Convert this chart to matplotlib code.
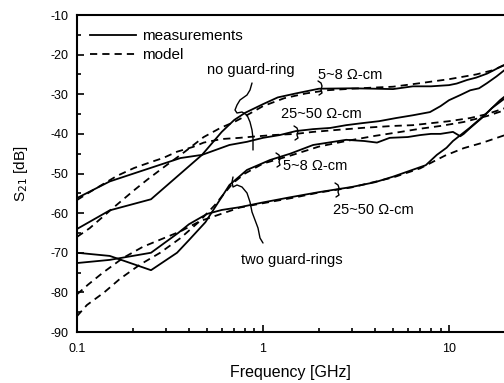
import numpy as np
import matplotlib
matplotlib.use("Agg")
import matplotlib.pyplot as plt
from matplotlib.ticker import MultipleLocator, LogLocator, FixedLocator, FixedFormatter, NullFormatter
from matplotlib.lines import Line2D

plt.rcParams['font.family'] = ['Liberation Sans', 'DejaVu Sans']
plt.rcParams['axes.unicode_minus'] = False

# ---------------- data ----------------
# measurements
f_s1 = [0.1, 0.15, 0.25, 0.47, 0.6, 0.7, 0.8, 1.0, 1.2, 1.5, 2.0, 3.0, 4.0, 5.0,
        6.4, 8.0, 10.0, 11.0, 12.5, 14.0, 16.0, 17.3, 19.0, 20.0]
s1 = [-64.0, -59.3, -56.5, -45.3, -39.5, -36.5, -34.7, -32.5, -30.8, -29.8, -28.6,
      -28.5, -28.6, -28.7, -28.0, -28.0, -27.7, -27.3, -26.4, -25.8, -24.8, -24.0, -23.0, -22.5]

f_s2 = [0.1, 0.15, 0.36, 0.47, 0.66, 0.82, 1.0, 1.23, 1.5, 1.86, 2.3, 2.8, 3.4, 4.2,
        5.2, 6.4, 7.9, 9.0, 10.0, 11.5, 13.0, 14.5, 16.0, 18.0, 20.0]
s2 = [-56.2, -52.0, -46.1, -45.3, -42.8, -42.0, -41.0, -40.3, -39.3, -38.8, -38.5,
      -37.8, -37.3, -36.8, -36.0, -35.3, -34.5, -33.0, -31.5, -30.2, -29.0, -28.5,
      -27.2, -25.5, -23.8]

f_s3 = [0.1, 0.15, 0.25, 0.345, 0.4, 0.49, 0.66, 0.82, 1.09, 1.4, 1.86, 2.8, 3.5,
        4.1, 4.8, 6.0, 7.0, 8.0, 9.0, 10.5, 11.5, 12.0, 13.0, 15.0, 17.0, 20.0]
s3 = [-70.0, -70.8, -74.4, -70.0, -66.8, -62.3, -52.9, -49.1, -46.6, -45.0, -42.8,
      -41.5, -41.8, -42.2, -41.0, -40.8, -40.3, -40.0, -40.0, -39.5, -40.6, -40.0,
      -38.5, -36.0, -33.5, -31.0]

f_s4 = [0.1, 0.15, 0.25, 0.35, 0.4, 0.5, 0.6, 0.75, 1.0, 1.4, 2.0, 3.0, 4.0, 5.0,
        6.0, 7.5, 8.6, 9.7, 10.5, 12.9, 16.0, 18.8, 20.0]
s4 = [-72.6, -71.8, -70.0, -65.0, -62.8, -60.2, -59.2, -58.5, -57.3, -56.0, -54.7,
      -53.4, -52.2, -50.8, -49.5, -47.9, -45.3, -43.5, -41.8, -38.5, -34.7, -31.5, -30.5]

# models
f_m1 = [0.1, 0.117, 0.158, 0.203, 0.238, 0.293, 0.38, 0.48, 0.59, 0.70, 0.79, 1.0,
        1.3, 1.7, 2.2, 3.0, 4.0, 5.0, 7.0, 10.0, 14.0, 17.0, 20.0]
m1 = [-66.0, -63.8, -58.5, -54.2, -51.6, -48.4, -44.5, -40.8, -38.5, -37.0, -35.7,
      -33.0, -31.0, -29.8, -29.0, -28.6, -28.3, -28.1, -27.2, -26.2, -25.0, -24.0, -22.6]

f_m2 = [0.1, 0.117, 0.164, 0.203, 0.25, 0.29, 0.345, 0.42, 0.48, 0.6, 0.75, 0.88,
        1.13, 1.5, 1.86, 2.5, 3.4, 5.0, 6.4, 8.0, 10.0, 13.0, 16.0, 20.0]
m2 = [-56.7, -54.7, -50.6, -48.6, -47.1, -46.1, -44.5, -43.3, -42.2, -41.3, -41.0,
      -40.7, -40.3, -40.0, -39.5, -39.0, -38.5, -38.0, -37.8, -37.3, -36.8, -36.0,
      -35.0, -33.5]

f_m3 = [0.1, 0.113, 0.14, 0.17, 0.218, 0.28, 0.36, 0.45, 0.55, 0.61, 0.69, 0.8, 1.0,
        1.4, 2.0, 2.8, 4.0, 5.5, 7.0, 9.0, 12.0, 16.0, 20.0]
m3 = [-86.0, -83.2, -80.0, -76.6, -73.0, -70.0, -66.3, -62.3, -58.0, -55.4, -52.4,
      -50.0, -47.5, -45.5, -43.2, -41.8, -40.5, -39.5, -38.7, -38.0, -37.0, -35.5, -34.0]

f_m4 = [0.1, 0.115, 0.138, 0.177, 0.226, 0.28, 0.36, 0.46, 0.57, 0.75, 1.0, 1.5,
        2.0, 3.0, 5.0, 7.0, 9.5, 12.0, 15.0, 20.0]
m4 = [-80.5, -78.0, -75.0, -71.3, -68.5, -66.7, -64.6, -62.0, -60.5, -58.6, -57.5,
      -56.0, -54.8, -53.5, -51.0, -48.7, -45.5, -43.6, -42.3, -40.3]

y_ticks = [-90, -80, -70, -60, -50, -40, -30, -20, -10]
x_ticks = [0.1, 1, 10]
x_ticklabels = ["0.1", "1", "10"]

# ---------------- figure ----------------
W, H = 504, 383
fig = plt.figure(figsize=(W / 100, H / 100), dpi=100)
ax = fig.add_axes([77 / W, 51 / H, 1 - 77 / W, (332 - 15) / H])

lw = 1.3
dash = (0, (4.0, 2.8))
for f, v in [(f_s1, s1), (f_s2, s2), (f_s3, s3), (f_s4, s4)]:
    ax.plot(f, v, color='black', lw=lw, solid_joinstyle='round')
for f, v in [(f_m1, m1), (f_m2, m2), (f_m3, m3), (f_m4, m4)]:
    ax.plot(f, v, color='black', lw=lw, linestyle=dash)

ax.set_xscale('log')
ax.set_xlim(0.1, 19.75)
ax.set_ylim(-90, -10)

ax.yaxis.set_major_locator(FixedLocator(y_ticks))
ax.yaxis.set_minor_locator(MultipleLocator(5))
ax.xaxis.set_major_locator(FixedLocator(x_ticks))
ax.xaxis.set_major_formatter(FixedFormatter(x_ticklabels))
ax.xaxis.set_minor_locator(LogLocator(base=10, subs=np.arange(2, 10)))
ax.xaxis.set_minor_formatter(NullFormatter())

ax.tick_params(axis='both', which='both', direction='in', top=False, right=False,
               width=1.2, labelsize=9)
ax.tick_params(axis='both', which='major', length=5)
ax.tick_params(axis='both', which='minor', length=3)
ax.tick_params(axis='x', pad=8)
ax.tick_params(axis='y', pad=6)

for s in ['left', 'top', 'bottom']:
    ax.spines[s].set_linewidth(1.5)
ax.spines['right'].set_visible(False)

ax.set_xlabel('Frequency [GHz]', fontsize=11.5, labelpad=7)
ax.set_ylabel('S$_{21}$ [dB]', fontsize=11, labelpad=15)

# legend
handles = [Line2D([], [], color='black', lw=lw),
           Line2D([], [], color='black', lw=lw, linestyle=dash)]
ax.legend(handles, ['measurements', 'model'], loc='upper left',
          bbox_to_anchor=(0.01, 0.985), frameon=False, fontsize=11,
          handlelength=3.0, handletextpad=0.4, labelspacing=0.35, borderaxespad=0.2)

# ---------------- annotations (figure pixel coordinates) ----------------
def P(pts):
    xs = [p[0] / W for p in pts]
    ys = [1 - p[1] / H for p in pts]
    return xs, ys

def draw(pts):
    xs, ys = P(pts)
    fig.add_artist(Line2D(xs, ys, color='black', lw=1.0, transform=fig.transFigure,
                          solid_joinstyle='round', solid_capstyle='round'))

def label(x, y, s, size=10.5):
    fig.text(x / W, 1 - y / H, s, ha='center', va='center', fontsize=size)

draw([(252, 83), (250, 90), (247, 95), (240, 100), (237, 105), (235, 110), (237, 113),
      (242, 112), (247, 115), (250, 122), (252, 130), (253, 138), (253, 150)])
draw([(233, 177), (232, 182), (233, 187), (237, 185), (242, 187), (247, 193), (250, 202),
      (252, 212), (255, 220), (258, 228), (260, 238), (263, 243)])

def hook(cx, cy):
    draw([(cx - 2, cy - 7), (cx + 1, cy - 5), (cx + 2, cy - 2), (cx + 1, cy + 2),
          (cx + 2, cy + 5), (cx - 1, cy + 7)])

hook(320, 88)
hook(296, 133)
hook(278, 160)
hook(337, 190)

label(251, 70, 'no guard-ring')
label(350, 75, '5~8 Ω-cm')
label(321, 114, '25~50 Ω-cm')
label(315, 166, '5~8 Ω-cm')
label(373, 210, '25~50 Ω-cm')
label(292, 260, 'two guard-rings')

fig.savefig('out.png', dpi=100)
